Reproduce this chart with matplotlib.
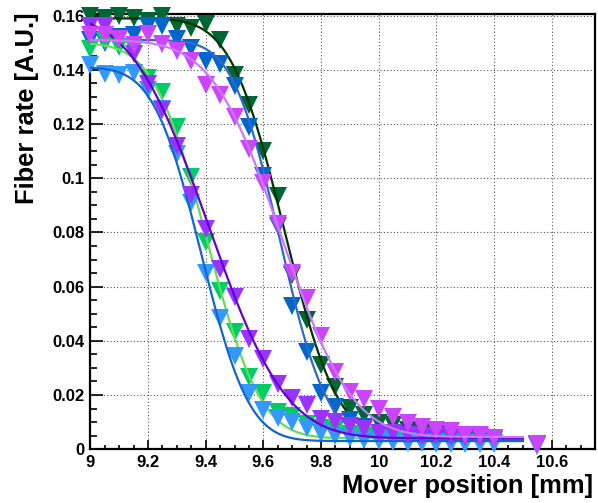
import math
import numpy as np
import matplotlib
matplotlib.use("Agg")
import matplotlib.pyplot as plt
from matplotlib.ticker import MultipleLocator, FixedLocator, FixedFormatter

plt.rcParams["font.family"] = ["Liberation Sans", "DejaVu Sans"]

# Mover positions [mm]
position = [9.00, 9.05, 9.10, 9.15, 9.20, 9.25, 9.30, 9.35, 9.40, 9.45,
            9.50, 9.55, 9.60, 9.65, 9.70, 9.75, 9.80, 9.85, 9.90, 9.95,
            10.00, 10.05, 10.10, 10.15, 10.20, 10.25, 10.30, 10.35, 10.40, 10.55]

# Fiber rates [A.U.] per fiber scan
rate_dkgreen = [0.1598, 0.1590, 0.1600, 0.1590, 0.1580, 0.1600, 0.1560, 0.1555, 0.1570, 0.1510,
                0.1380, 0.1270, 0.1100, 0.0935, 0.0644, 0.0478, 0.0310, 0.0231, 0.0152, 0.0126,
                0.0098, 0.0088, 0.0072, 0.0064, 0.0056, 0.0050, 0.0046, 0.0043, 0.0040, 0.0020]
rate_blue = [0.1510, 0.1500, 0.1520, 0.1530, 0.1560, 0.1560, 0.1515, 0.1480, 0.1434, 0.1420,
             0.1340, 0.1190, 0.1010, 0.0823, 0.0527, 0.0360, 0.0209, 0.0154, 0.0107, 0.0083,
             0.0060, 0.0052, 0.0045, 0.0042, 0.0040, 0.0038, 0.0036, 0.0035, 0.0034, 0.0018]
rate_green = [0.1478, 0.1505, 0.1485, 0.1478, 0.1370, 0.1317, 0.1190, 0.1003, 0.0765, 0.0583,
              0.0434, 0.0268, 0.0206, 0.0138, 0.0123, 0.0092, 0.0077, 0.0070, 0.0055, 0.0048,
              0.0040, 0.0035, 0.0030, 0.0028, 0.0026, 0.0025, 0.0024, 0.0023, 0.0022, 0.0016]
rate_ltblue = [0.1416, 0.1385, 0.1380, 0.1390, 0.1324, 0.1256, 0.1090, 0.0907, 0.0650, 0.0484,
               0.0345, 0.0206, 0.0144, 0.0114, 0.0101, 0.0077, 0.0060, 0.0048, 0.0040, 0.0034,
               0.0030, 0.0027, 0.0024, 0.0022, 0.0021, 0.0020, 0.0020, 0.0019, 0.0019, 0.0013]
rate_purple = [0.1560, 0.1560, 0.1515, 0.1460, 0.1348, 0.1250, 0.1120, 0.0937, 0.0811, 0.0666,
               0.0561, 0.0407, 0.0333, 0.0240, 0.0188, 0.0163, 0.0111, 0.0102, 0.0086, 0.0073,
               0.0060, 0.0058, 0.0052, 0.0050, 0.0048, 0.0046, 0.0045, 0.0044, 0.0043, 0.0019]
rate_magenta = [0.1527, 0.1527, 0.1515, 0.1490, 0.1533, 0.1496, 0.1470, 0.1434, 0.1345, 0.1308,
                0.1225, 0.1107, 0.0984, 0.0830, 0.0650, 0.0558, 0.0416, 0.0286, 0.0212, 0.0185,
                0.0148, 0.0120, 0.0095, 0.0083, 0.0070, 0.0067, 0.0052, 0.0052, 0.0043, 0.0020]

# Error-function edge fits: [amplitude, edge position, width, offset]
fit_dkgreen = [0.1555, 9.672, 0.145, 0.0035]
fit_blue = [0.1470, 9.657, 0.128, 0.0040]
fit_green = [0.1460, 9.405, 0.145, 0.0040]
fit_ltblue = [0.1380, 9.385, 0.130, 0.0030]
fit_purple = [0.1570, 9.410, 0.210, 0.0040]
fit_magenta = [0.1465, 9.665, 0.190, 0.0045]

fit_range = (9.0, 10.5)

x_ticks = [9.0, 9.2, 9.4, 9.6, 9.8, 10.0, 10.2, 10.4, 10.6]
x_tick_labels = ["9", "9.2", "9.4", "9.6", "9.8", "10", "10.2", "10.4", "10.6"]
y_ticks = [0.0, 0.02, 0.04, 0.06, 0.08, 0.10, 0.12, 0.14, 0.16]
y_tick_labels = ["0", "0.02", "0.04", "0.06", "0.08", "0.1", "0.12", "0.14", "0.16"]

series = [
    (rate_dkgreen, fit_dkgreen, "#006633", "#003300"),
    (rate_blue, fit_blue, "#0066cc", "#3366cc"),
    (rate_green, fit_green, "#00cc66", "#66dd55"),
    (rate_ltblue, fit_ltblue, "#3399ff", "#1166cc"),
    (rate_purple, fit_purple, "#9933ff", "#6600cc"),
    (rate_magenta, fit_magenta, "#cc44ff", "#cc77ff"),
]

erfc = np.vectorize(math.erfc)


def edge(x, amp, mu, sigma, off):
    return off + 0.5 * amp * erfc((x - mu) / (math.sqrt(2.0) * sigma))


W, H = 598, 503
fig = plt.figure(figsize=(W / 100, H / 100), dpi=100)
ax = fig.add_axes([90.3 / W, 1 - 449.2 / H, (595 - 90.3) / W, (449.2 - 14) / H])

xfit = np.linspace(fit_range[0], fit_range[1], 400)
for i, (rates, fit, mcol, lcol) in enumerate(series):
    z = 4 + 2 * i
    ax.plot(position, rates, linestyle="none", marker="v", markersize=12.3,
            markerfacecolor=mcol, markeredgewidth=0, clip_on=False, zorder=z)
    ax.plot(xfit, edge(xfit, *fit), color=lcol, linewidth=1.6, zorder=z + 1)

ax.set_xlim(9.0, 10.75)
ax.set_ylim(0.0, 0.1606)

ax.xaxis.set_major_locator(FixedLocator(x_ticks))
ax.xaxis.set_major_formatter(FixedFormatter(x_tick_labels))
ax.xaxis.set_minor_locator(MultipleLocator(0.05))
ax.yaxis.set_major_locator(FixedLocator(y_ticks))
ax.yaxis.set_major_formatter(FixedFormatter(y_tick_labels))
ax.yaxis.set_minor_locator(MultipleLocator(0.005))

ax.tick_params(axis="both", which="both", direction="in", top=False, right=False,
               labelsize=12, width=1.2)
ax.tick_params(axis="x", which="major", length=6.5, pad=4)
ax.tick_params(axis="x", which="minor", length=3.2)
ax.tick_params(axis="y", which="major", length=9.4, pad=4)
ax.tick_params(axis="y", which="minor", length=5)
for lab in ax.get_xticklabels() + ax.get_yticklabels():
    lab.set_fontweight("bold")

ax.grid(True, which="major", color="#555555", linewidth=0.8, linestyle=(0, (1, 2)), zorder=1)
ax.set_axisbelow(True)
for side in ["left", "bottom", "top", "right"]:
    ax.spines[side].set_linewidth(1.6)
    ax.spines[side].set_color("black")

fig.text(593 / W, 1 - 493 / H, "Mover position [mm]", ha="right", va="baseline",
         fontsize=18.4, fontweight="bold")
fig.text(27 / W, 1 - 13 / H, "Fiber rate [A.U.]", ha="center", va="top", rotation=90,
         fontsize=18.4, fontweight="bold")

fig.savefig("out.png", dpi=100, facecolor="white")
